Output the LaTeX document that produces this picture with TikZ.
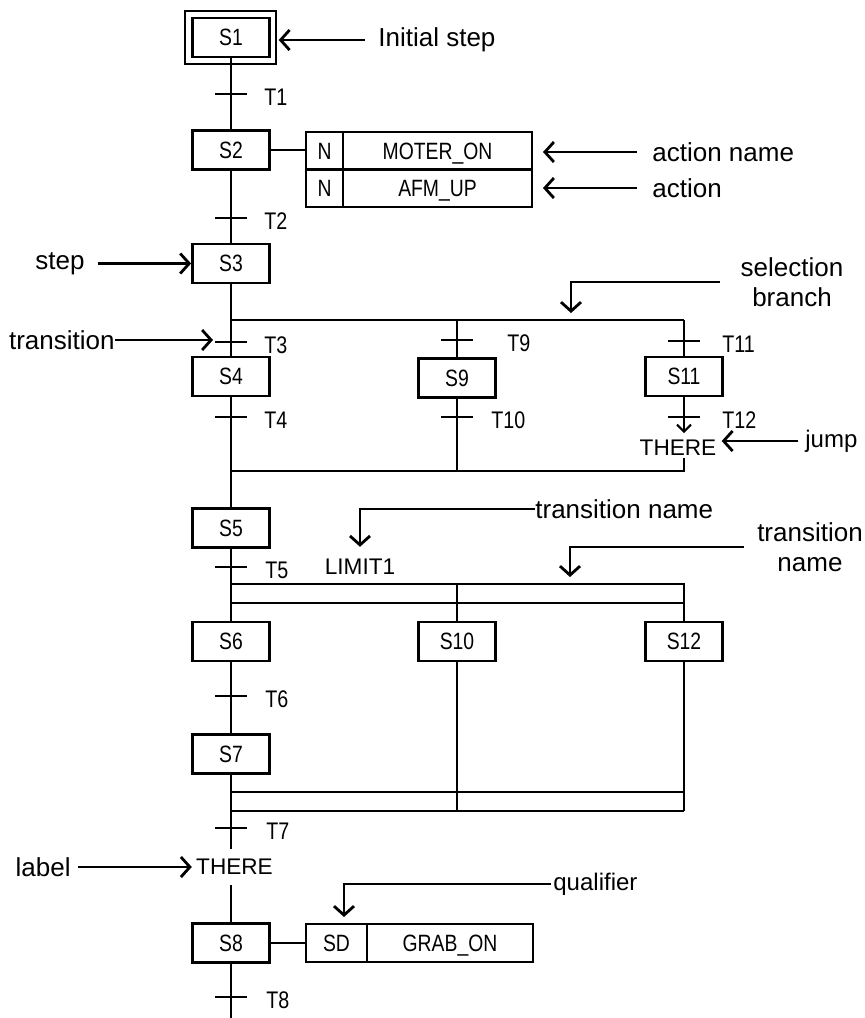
\documentclass[tikz,border=0pt]{standalone}
\usepackage{fontspec}
\setmainfont{Liberation Sans}
\newfontfamily\narrowfamily[FakeStretch=0.82]{Liberation Sans}
\usetikzlibrary{arrows.meta,positioning}

\newcommand{\stepfont}{\narrowfamily\fontsize{11.8}{13}\selectfont}
\newcommand{\tfont}{\narrowfamily\fontsize{12}{13}\selectfont}
\newcommand{\notefont}{\fontsize{13}{15}\selectfont}
\newcommand{\smallnotefont}{\fontsize{12}{14}\selectfont}
\newcommand{\markfont}{\fontsize{11.3}{13}\selectfont}

\begin{document}
\begin{tikzpicture}[x=0.5pt,y=-0.5pt,
    stepbox/.style={draw,line width=1.4pt,minimum width=38.5pt,minimum height=19.5pt,inner sep=0pt,
        text height=8.4pt,text depth=0pt,font=\stepfont},
    initframe/.style={draw,line width=0.7pt,minimum width=45.5pt,minimum height=26.5pt,inner sep=0pt},
    actbox/.style={draw,line width=1.2pt,minimum height=18.75pt,inner sep=0pt,outer sep=0pt,
        text height=8.4pt,text depth=0pt,font=\stepfont},
    flow/.style={line width=1pt},
    tickline/.style={line width=1pt},
    tlabel/.style={anchor=west,inner sep=0pt,font=\tfont},
    notetext/.style={inner sep=0pt,font=\notefont},
    note/.style={line width=1.4pt,-{Straight Barb[length=4.5pt,width=10pt]}},
    jumparrow/.style={line width=1pt,-{Straight Barb[length=3.5pt,width=7pt]}},
    jumplabel/.style={inner xsep=2.5pt,font=\markfont}]

    \useasboundingbox (0,0) rectangle (865,1018);

    \node[stepbox] (s1) at (231,37.5) {S1};
    \node[initframe] (s1frame) at (230.5,37.5) {};
    \node[stepbox] (s2) at (231,150) {S2};
    \node[stepbox] (s3) at (231,263.5) {S3};
    \node[stepbox] (s4) at (231,376.5) {S4};
    \node[stepbox] (s9) at (457,378) {S9};
    \node[stepbox] (s11) at (684,376.5) {S11};
    \node[stepbox] (s5) at (231,528) {S5};
    \node[stepbox] (s6) at (231,641.5) {S6};
    \node[stepbox] (s10) at (457,641.5) {S10};
    \node[stepbox] (s12) at (684,641.5) {S12};
    \node[stepbox] (s7) at (231,754) {S7};
    \node[stepbox] (s8) at (231,943) {S8};

    \node[actbox,minimum width=18.5pt] (q1) at (324.5,150.75) {N};
    \node[actbox,minimum width=94.5pt,right=0pt of q1] (a1) {MOTER\_ON};
    \node[actbox,minimum width=18.5pt,below=0pt of q1] (q2) {N};
    \node[actbox,minimum width=94.5pt,right=0pt of q2] (a2) {AFM\_UP};
    \node[actbox,minimum width=30.5pt,minimum height=19pt] (q3) at (336.5,943) {SD};
    \node[actbox,minimum width=83pt,minimum height=19pt,right=0pt of q3] (a3) {GRAB\_ON\hspace{12pt}};

    \node[jumplabel,inner ysep=1pt] (there1) at (678,448) {THERE};
    \node[jumplabel,inner ysep=5pt,inner xsep=2pt] (there2) at (234.5,867) {THERE};
    \node[jumplabel,inner sep=0pt] (limit) at (360,567) {LIMIT1};

    \coordinate (br1L) at (231,320);
    \coordinate (br1M) at (457,320);
    \coordinate (br1R) at (684,320);
    \coordinate (mg1L) at (231,471);
    \coordinate (mg1M) at (457,471);
    \coordinate (mg1R) at (684,471);
    \coordinate (jmp) at (684,433);
    \coordinate (par1L) at (231,584);
    \coordinate (par1M) at (457,584);
    \coordinate (par1R) at (684,584);
    \coordinate (par2L) at (231,603);
    \coordinate (par2R) at (684,603);
    \coordinate (sync1L) at (231,792);
    \coordinate (sync1R) at (684,792);
    \coordinate (sync2L) at (231,811);
    \coordinate (sync2M) at (457,811);
    \coordinate (sync2R) at (684,811);
    \coordinate (bottom) at (231,1018);

    \draw[flow] (s1) -- (s2);
    \draw[flow] (s2) -- (s2 -| q1.west);
    \draw[flow] (s2) -- (s3);
    \draw[flow] (s3) -- (br1L) -- (br1R);
    \draw[flow] (br1L) -- (s4);
    \draw[flow] (br1M) -- (s9);
    \draw[flow] (br1R) -- (s11);
    \draw[flow] (s4) -- (mg1L) -- (mg1R) -- (there1.south -| mg1R);
    \draw[flow] (s9) -- (mg1M);
    \draw[jumparrow] (s11) -- (jmp);
    \draw[flow] (mg1L) -- (s5);
    \draw[flow] (s5) -- (par1L) -- (par1R) -- (s12);
    \draw[flow] (par2L) -- (par2R);
    \draw[flow] (par1L) -- (s6);
    \draw[flow] (par1M) -- (s10);
    \draw[flow] (s6) -- (s7);
    \draw[flow] (s7) -- (sync2L);
    \draw[flow] (s10) -- (sync2M);
    \draw[flow] (s12) -- (sync2R);
    \draw[flow] (sync1L) -- (sync1R);
    \draw[flow] (sync2L) -- (sync2R);
    \draw[flow] (sync2L) -- (sync2L |- there2.north);
    \draw[flow] (there2.south -| sync2L) -- (s8);
    \draw[flow] (s8) -- (q3);
    \draw[flow] (s8) -- (bottom);

    \foreach \tn/\tx/\ty/\lx in {T1/231/94/264, T2/231/218/264, T3/231/342/264, T4/231/417/264,
        T9/457/340/507, T10/457/417/491, T11/684/341/722, T12/684/417/722,
        T5/231/567/265, T6/231/696/265, T7/231/828/266, T8/231/997/266}
    {
        \coordinate (\tn) at (\tx,\ty);
        \draw[tickline] ([xshift=-8pt]\tn) -- ([xshift=8pt]\tn);
        \node[tlabel] (\tn-lbl) at (\lx,\ty+3) {\tn};
    }

    \node[notetext,anchor=west] (initlbl) at (378,40) {Initial step};
    \draw[note,shorten <=6.5pt,shorten >=1pt] (initlbl.west) -- (initlbl.west -| s1frame.east);

    \node[notetext,anchor=west] (anamelbl) at (652,152) {action name};
    \draw[note,shorten <=7.5pt,shorten >=5.5pt] (anamelbl.west) -- (anamelbl.west -| a1.east);

    \node[notetext,anchor=west] (actlbl) at (652,188) {action};
    \draw[note,shorten <=7.5pt,shorten >=5.5pt] (actlbl.west) -- (actlbl.west -| a2.east);

    \node[notetext,anchor=east] (steplbl) at (85,263.5) {step};
    \draw[note,shorten <=6.5pt] (steplbl.east) -- (steplbl.east -| s3.west);

    \node[notetext,align=center] (sellbl) at (792,282) {selection\\branch};
    \coordinate (selpt) at (571,320);
    \draw[note,shorten <=10pt,shorten >=3.5pt] (sellbl.west) -| (selpt);

    \node[notetext,anchor=east] (translbl) at (115,340) {transition};
    \draw[note,shorten >=9pt] (translbl.east) -- (translbl.east -| T3);

    \node[notetext,anchor=west,font=\smallnotefont] (jumplbl) at (805,441) {jump};
    \draw[note,shorten <=3.5pt] (jumplbl.west) -- (jumplbl.west -| there1.east);

    \node[notetext,anchor=west] (tnamelbl1) at (535,509) {transition name};
    \draw[note,shorten >=6pt] (tnamelbl1.west) -| (limit.north);

    \node[notetext,align=center] (tnamelbl2) at (810,547) {transition\\name};
    \coordinate (tn2pt) at (570,584);
    \draw[note,shorten <=6.5pt,shorten >=3.5pt] (tnamelbl2.west) -| (tn2pt);

    \node[notetext,anchor=east] (labeltxt) at (71,867) {label};
    \draw[note,shorten <=3.5pt] (labeltxt.east) -- (labeltxt.east -| there2.west);

    \node[notetext,anchor=west,font=\smallnotefont] (quallbl) at (553,884) {qualifier};
    \coordinate (qualpt) at ([xshift=3.75pt]q3.north);
    \draw[note,shorten <=1pt,shorten >=3.5pt] (quallbl.west) -| (qualpt);

\end{tikzpicture}
\end{document}
